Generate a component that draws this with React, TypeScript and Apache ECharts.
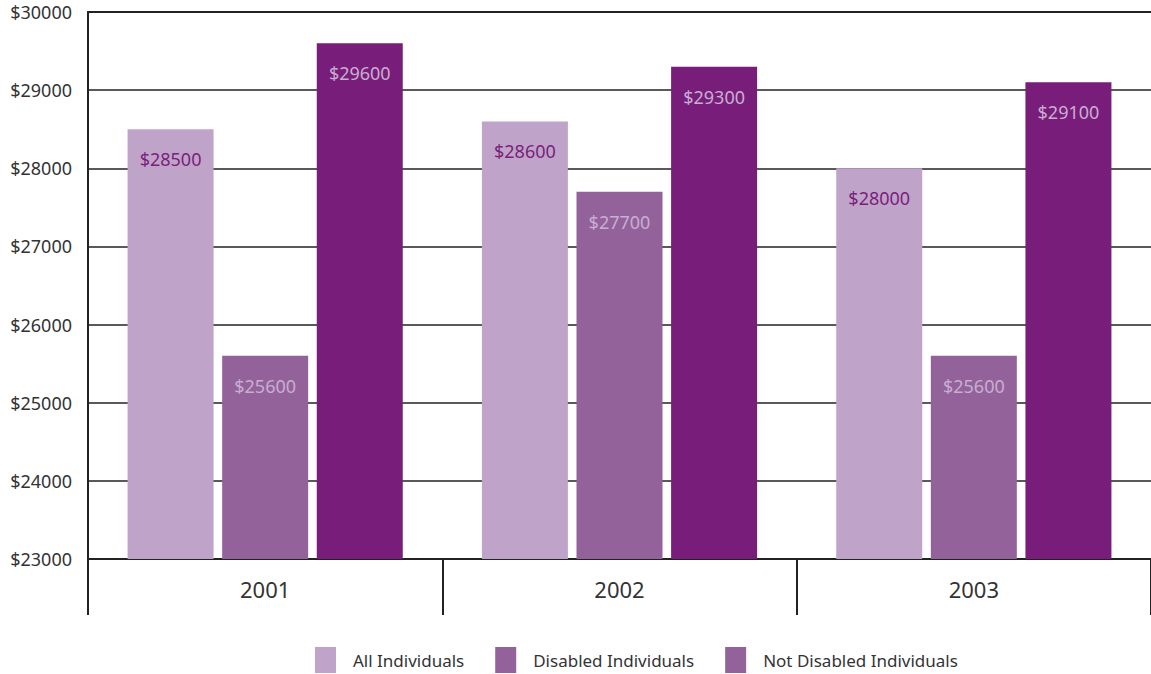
import React, { useEffect, useRef } from "react";
import * as echarts from "echarts";

const years = ["2001", "2002", "2003"];
const allIndividuals = [28500, 28600, 28000];
const disabledIndividuals = [25600, 27700, 25600];
const notDisabledIndividuals = [29600, 29300, 29100];
const seriesNames = ["All Individuals", "Disabled Individuals", "Not Disabled Individuals"];

const FONT = "'Noto Sans', sans-serif";

export default function App() {
  const ref = useRef<HTMLDivElement>(null);
  useEffect(() => {
    if (!ref.current) return;
    const chart = echarts.init(ref.current, null, { renderer: "svg" });
    const colors = ["#c0a3c9", "#94629b", "#781e7a"];
    const labelColors = ["#7a1f7b", "#c8aed0", "#c8aed0"];
    const datas = [allIndividuals, disabledIndividuals, notDisabledIndividuals];
    chart.setOption({
      animation: false,
      textStyle: { fontFamily: FONT },
      grid: { left: 88, right: 0, top: 12, bottom: 115, containLabel: false },
      legend: {
        top: 647,
        left: 315,
        padding: 0,
        icon: "rect",
        itemWidth: 21,
        itemHeight: 26,
        itemGap: 31,
        textStyle: { fontSize: 17, color: "#333", fontFamily: FONT, padding: [0, 0, 0, 12] },
        data: [
          { name: seriesNames[0], itemStyle: { color: colors[0] } },
          { name: seriesNames[1], itemStyle: { color: colors[1] } },
          { name: seriesNames[2], itemStyle: { color: colors[1] } },
        ],
      },
      xAxis: [
        {
          type: "category",
          data: years,
          axisLine: { show: true, lineStyle: { color: "#222", width: 2 } },
          axisTick: { show: true, length: 56, interval: 0, lineStyle: { color: "#222", width: 2 } },
          axisLabel: { fontSize: 22, color: "#333", margin: 19, fontFamily: FONT },
        },
        {
          type: "category",
          data: years,
          position: "top",
          axisLine: { show: true, lineStyle: { color: "#222", width: 2 } },
          axisTick: { show: false },
          axisLabel: { show: false },
        },
      ],
      yAxis: {
        type: "value",
        min: 23000,
        max: 30000,
        interval: 1000,
        axisLine: { show: true, lineStyle: { color: "#222", width: 2 } },
        axisTick: { show: false },
        splitLine: { show: true, lineStyle: { color: "#222", width: 1.5 } },
        axisLabel: {
          fontSize: 18,
          color: "#333",
          margin: 16,
          padding: [6, 0, 0, 0],
          fontFamily: FONT,
          formatter: (v: number) => "$" + v,
        },
      },
      series: seriesNames.map((name, i) => ({
        name,
        type: "bar",
        data: datas[i],
        barWidth: 86,
        barGap: "10%",
        itemStyle: { color: colors[i] },
        label: {
          show: true,
          position: "insideTop",
          distance: 21,
          fontSize: 18,
          color: labelColors[i],
          fontFamily: FONT,
          formatter: (p: any) => "$" + p.value,
        },
      })),
    });
    return () => chart.dispose();
  }, []);
  return (
    <div
      ref={ref}
      style={{ position: "fixed", left: 0, top: 0, width: 1151, height: 674, background: "#fff" }}
    />
  );
}
